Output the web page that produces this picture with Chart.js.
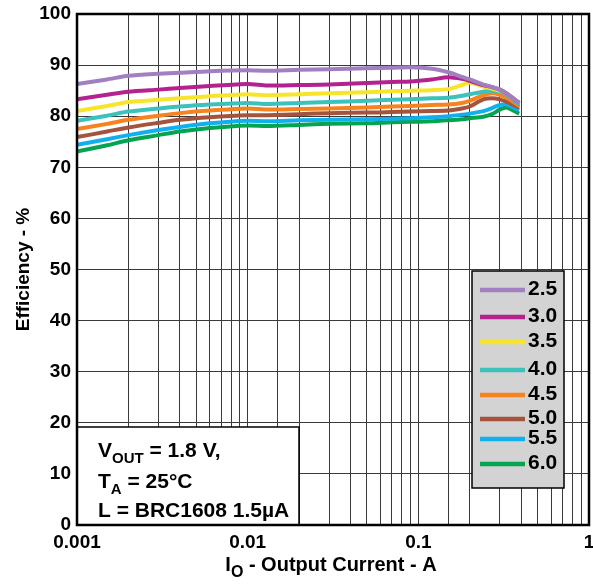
<!DOCTYPE html>
<html>
<head>
<meta charset="utf-8">
<script src="https://cdn.jsdelivr.net/npm/chart.js@4/dist/chart.umd.min.js"></script>
<style>
  html, body { margin: 0; padding: 0; background: #ffffff; }
  #wrap { width: 593px; height: 584px; }
</style>
</head>
<body>
<div id="wrap"><canvas id="c" width="593" height="584"></canvas></div>
<script>
// ---- data ----
const currentA = [0.001, 0.0015, 0.002, 0.003, 0.004, 0.006, 0.01, 0.013, 0.02, 0.03, 0.05, 0.07, 0.09, 0.12, 0.15, 0.18, 0.2, 0.24, 0.27, 0.3, 0.33, 0.39];
const eff_2v5 = [86.3, 87.2, 87.9, 88.3, 88.5, 88.8, 89.0, 88.9, 89.1, 89.2, 89.4, 89.5, 89.6, 89.3, 88.6, 87.7, 87.2, 86.2, 85.7, 85.2, 84.4, 82.6];
const eff_3v0 = [83.3, 84.2, 84.8, 85.2, 85.5, 85.9, 86.3, 86.0, 86.1, 86.2, 86.5, 86.7, 86.8, 87.2, 87.6, 87.3, 86.9, 86.1, 85.7, 85.2, 84.4, 82.6];
const eff_3v5 = [81.0, 82.0, 82.8, 83.2, 83.5, 83.9, 84.3, 84.1, 84.3, 84.5, 84.7, 84.9, 85.0, 85.1, 85.3, 86.1, 86.6, 85.8, 85.4, 85.0, 84.4, 82.6];
const eff_4v0 = [79.1, 80.1, 80.9, 81.5, 81.9, 82.3, 82.6, 82.4, 82.6, 82.8, 83.0, 83.2, 83.3, 83.5, 83.6, 84.0, 84.3, 84.8, 85.0, 84.8, 84.2, 82.3];
const eff_4v5 = [77.5, 78.5, 79.3, 80.1, 80.6, 81.1, 81.5, 81.3, 81.4, 81.5, 81.7, 81.9, 82.0, 82.2, 82.3, 82.6, 83.0, 84.1, 84.5, 84.2, 83.6, 82.0];
const eff_5v0 = [75.9, 77.0, 77.8, 78.7, 79.3, 79.8, 80.2, 80.2, 80.4, 80.6, 80.7, 80.8, 80.9, 81.0, 81.1, 81.5, 81.9, 83.3, 83.5, 83.3, 82.8, 81.7];
const eff_5v5 = [74.4, 75.5, 76.3, 77.3, 77.9, 78.6, 79.1, 79.0, 79.2, 79.3, 79.4, 79.5, 79.6, 79.8, 80.0, 80.3, 80.5, 81.0, 81.6, 82.2, 82.3, 81.2];
const eff_6v0 = [73.1, 74.3, 75.3, 76.3, 77.0, 77.7, 78.2, 78.1, 78.3, 78.5, 78.6, 78.8, 78.9, 79.0, 79.2, 79.4, 79.6, 79.9, 80.4, 81.3, 81.7, 80.5];

const seriesLabels = ['2.5', '3.0', '3.5', '4.0', '4.5', '5.0', '5.5', '6.0'];
const seriesValues = [eff_2v5, eff_3v0, eff_3v5, eff_4v0, eff_4v5, eff_5v0, eff_5v5, eff_6v0];
const seriesColors = ['#a17fc0', '#b3228f', '#f6e52a', '#3cc2ba', '#f6831f', '#a4533d', '#10b0ee', '#05a54f'];

const xTickValues = [0.001, 0.01, 0.1, 1];
const xTickLabels = ['0.001', '0.01', '0.1', '1'];
const yTickLabels = ['0', '10', '20', '30', '40', '50', '60', '70', '80', '90', '100'];

const yTitle = 'Efficiency - %';
const xTitleMain = 'I';
const xTitleSub = 'O';
const xTitleRest = ' - Output Current - A';
const noteLines = [
  { main: 'V', sub: 'OUT', rest: ' = 1.8 V,' },
  { main: 'T', sub: 'A', rest: ' = 25°C' },
  { main: 'L = BRC1608 1.5µA', sub: '', rest: '' }
];

const FONT = "'Liberation Sans', Arial, sans-serif";

const datasets = seriesLabels.map((lab, i) => ({
  label: lab,
  data: currentA.map((x, j) => ({ x: x, y: seriesValues[i][j] })),
  borderColor: seriesColors[i],
  backgroundColor: seriesColors[i],
  borderWidth: 4,
  pointRadius: 0,
  tension: 0.25,
  fill: false
}));

function drawSubText(ctx, x, baseline, main, sub, rest, mainSize, subSize, subDrop) {
  ctx.font = 'bold ' + mainSize + 'px ' + FONT;
  ctx.fillText(main, x, baseline);
  x += ctx.measureText(main).width;
  if (sub) {
    ctx.font = 'bold ' + subSize + 'px ' + FONT;
    ctx.fillText(sub, x, baseline + subDrop);
    x += ctx.measureText(sub).width;
  }
  if (rest) {
    ctx.font = 'bold ' + mainSize + 'px ' + FONT;
    ctx.fillText(rest, x, baseline);
    x += ctx.measureText(rest).width;
  }
  return x;
}

const overlayPlugin = {
  id: 'overlay',
  beforeDatasetsDraw(chart) {
    const ctx = chart.ctx;
    const a = chart.chartArea;
    ctx.save();
    // note box
    ctx.fillStyle = '#ffffff';
    ctx.fillRect(a.left, 427, 222, a.bottom - 427);
    ctx.strokeStyle = '#000';
    ctx.lineWidth = 1.5;
    ctx.strokeRect(a.left, 427, 222, a.bottom - 427);
    ctx.fillStyle = '#000';
    ctx.textBaseline = 'alphabetic';
    ctx.textAlign = 'left';
    const baselines = [457, 488, 517];
    noteLines.forEach((ln, i) => {
      drawSubText(ctx, 98, baselines[i], ln.main, ln.sub, ln.rest, 21, 15, 6);
    });
    // legend box
    ctx.fillStyle = '#d3d3d4';
    ctx.fillRect(472, 271, 92, 217);
    ctx.strokeStyle = '#000';
    ctx.lineWidth = 1.5;
    ctx.strokeRect(472, 271, 92, 217);
    const rows = [290, 317, 342, 370, 395, 419, 439, 464];
    chart.data.datasets.forEach((ds, i) => {
      ctx.strokeStyle = ds.borderColor;
      ctx.lineWidth = 4.5;
      ctx.beginPath();
      ctx.moveTo(480, rows[i]);
      ctx.lineTo(525, rows[i]);
      ctx.stroke();
      ctx.fillStyle = '#000';
      ctx.font = 'bold 21px ' + FONT;
      ctx.textBaseline = 'middle';
      ctx.fillText(ds.label, 528, rows[i] - 1);
    });
    ctx.restore();
  },
  afterDraw(chart) {
    const ctx = chart.ctx;
    const a = chart.chartArea;
    ctx.save();
    // plot border
    ctx.strokeStyle = '#000';
    ctx.lineWidth = 2.5;
    ctx.strokeRect(a.left, a.top, a.right - a.left, a.bottom - a.top);
    // x title with subscript
    ctx.fillStyle = '#000';
    ctx.textBaseline = 'alphabetic';
    ctx.font = 'bold 20px ' + FONT;
    let w = ctx.measureText(xTitleMain).width + ctx.measureText(xTitleRest).width;
    ctx.font = 'bold 16px ' + FONT;
    w += ctx.measureText(xTitleSub).width;
    const cx = (a.left + a.right) / 2 - 2;
    drawSubText(ctx, cx - w / 2, 571, xTitleMain, xTitleSub, xTitleRest, 20, 16, 6);
    ctx.restore();
  }
};

new Chart(document.getElementById('c'), {
  type: 'line',
  data: { datasets: datasets },
  plugins: [overlayPlugin],
  options: {
    responsive: false,
    animation: false,
    devicePixelRatio: 1,
    layout: { padding: { left: 0, right: 4, top: 14, bottom: 0 } },
    plugins: { legend: { display: false }, tooltip: { enabled: false } },
    scales: {
      x: {
        type: 'logarithmic',
        min: 0.001,
        max: 1,
        border: { display: false },
        grid: { color: '#3a3a3a', lineWidth: 1, drawTicks: false },
        ticks: {
          autoSkip: false,
          maxRotation: 0,
          minRotation: 0,
          padding: 6,
          color: '#000',
          font: { family: FONT, size: 19, weight: 'bold' },
          callback: function (v) {
            for (let i = 0; i < xTickValues.length; i++) {
              if (Math.abs(Math.log10(v) - Math.log10(xTickValues[i])) < 1e-6) return xTickLabels[i];
            }
            return '';
          }
        },
        afterFit: function (s) { s.height = 59; s.paddingLeft = 0; s.paddingRight = 0; }
      },
      y: {
        type: 'linear',
        min: 0,
        max: 100,
        border: { display: false },
        grid: { color: '#3a3a3a', lineWidth: 1, drawTicks: false },
        ticks: {
          stepSize: 10,
          padding: 6,
          color: '#000',
          font: { family: FONT, size: 19, weight: 'bold' },
          callback: function (v) { return yTickLabels[Math.round(v / 10)]; }
        },
        title: {
          display: true,
          text: yTitle,
          color: '#000',
          font: { family: FONT, size: 19, weight: 'bold' },
          padding: { top: 12, bottom: 0 }
        },
        afterFit: function (s) { s.width = 77; s.paddingTop = 0; s.paddingBottom = 0; }
      }
    }
  }
});
</script>
</body>
</html>
